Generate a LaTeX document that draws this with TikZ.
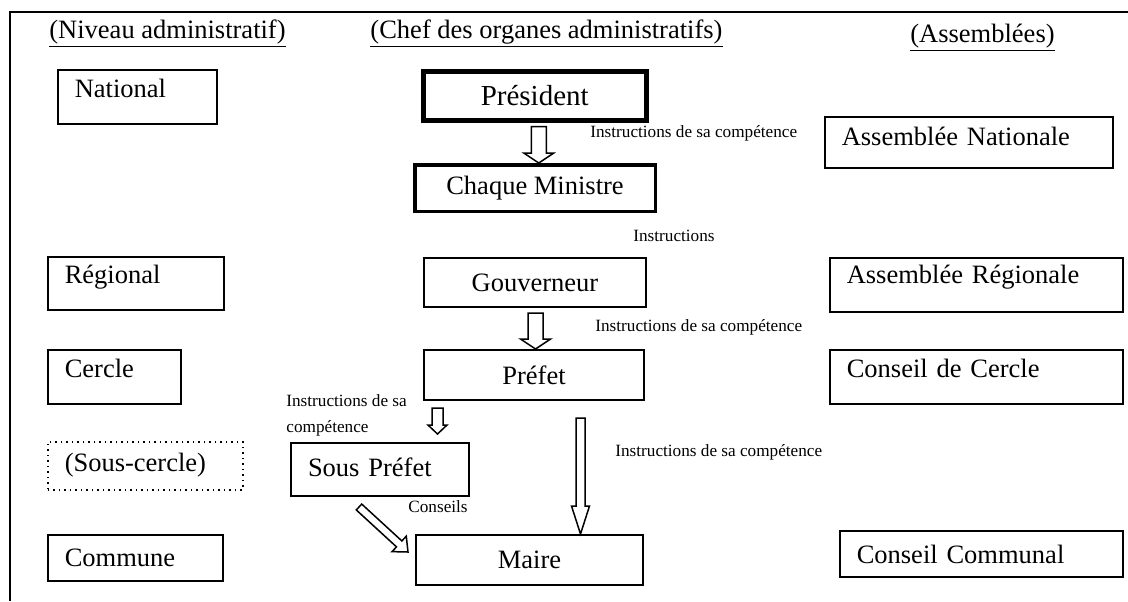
\documentclass[tikz,border=0pt]{standalone}
\usepackage{fontspec}
\setmainfont{Liberation Serif}
\usetikzlibrary{calc}

% hollow block arrow: start, tip, half shaft, half head, head length
\newcommand{\hollowarrow}[5]{%
  \coordinate (hb) at ($(#2)!#5!(#1)$);
  \draw[blockarrow] ($(#1)!#3!90:(#2)$) -- ($(hb)!#3!90:(#2)$)
    -- ($(hb)!#4!90:(#2)$) -- (#2) -- ($(hb)!#4!-90:(#2)$)
    -- ($(hb)!#3!-90:(#2)$) -- ($(#1)!#3!-90:(#2)$) -- cycle;
}

\begin{document}
\begin{tikzpicture}
[x=0.5pt,y=-0.5pt,%
  lvl/.style={draw,line width=0.75pt,anchor=north west,inner xsep=8.5pt,inner ysep=0pt,%
    align=left,font=\fontsize{13.25}{15}\selectfont},%
  chef/.style={draw,line width=1pt,anchor=north west,inner sep=0pt,%
    font=\fontsize{13.25}{15}\selectfont},%
  head/.style={anchor=base,inner sep=0pt,font=\fontsize{13.25}{15}\selectfont},%
  note/.style={anchor=west,inner sep=0pt,font=\fontsize{8.6}{13}\selectfont},%
  blockarrow/.style={draw,line width=0.75pt,fill=white,line join=miter}]
\useasboundingbox (0,0) rectangle (1128,601);
\draw[line width=1pt] (1128,12) -| (10,601);

% column headers
\node[head] (hniv) at (167.5,38) {\underline{(Niveau administratif)}};
\node[head] (hchef) at (546.5,38) {\underline{(Chef des organes administratifs)}};
\node[head] (hass) at (982.5,42) {\underline{(Assemblées)}};

% administrative levels
\node[lvl,text width=62.5pt,text height=14pt,text depth=13pt] (nat) at (57,69) {National};
\node[lvl,text width=71pt,text height=13.5pt,text depth=13pt] (reg) at (47,256) {Régional};
\node[lvl,text width=49.5pt,text height=14pt,text depth=13pt] (cer) at (47,349) {Cercle};
\node[lvl,dotted,text width=80.5pt,text height=15pt,text depth=9pt] (scer) at (47,441) {(Sous-cercle)};
\node[lvl,text width=70.5pt,text height=16pt,text depth=7pt] (com) at (47,534) {Commune};

% heads of the administrative bodies
\node[chef,line width=2.25pt,minimum width=111.5pt,minimum height=24.5pt,%
  font=\fontsize{14.5}{16}\selectfont] (pres) at (421,69) {Président};
\node[chef,line width=1.75pt,minimum width=120.25pt,minimum height=23.25pt] (mini) at (413,163) {Chaque Ministre};
\node[chef,minimum width=111pt,minimum height=24.5pt] (gouv) at (423,257) {Gouverneur};
\node[chef,minimum width=110pt,minimum height=25pt] (pref) at (423,349) {Préfet};
\node[lvl,line width=1pt,text width=72pt,text height=16.5pt,text depth=10pt] (sous) at (290,442) {Sous Préfet};
\node[chef,minimum width=113.5pt,minimum height=25pt] (maire) at (415,534) {Maire};

% assemblies
\node[lvl,text width=127pt,text height=14.5pt,text depth=11pt] (an) at (824,116) {Assemblée Nationale};
\node[lvl,text width=129.5pt,text height=13pt,text depth=14pt] (ar) at (829,257) {Assemblée Régionale};
\node[lvl,text width=129.5pt,text height=14pt,text depth=13pt] (cc) at (829,349) {Conseil de Cercle};
\node[lvl,text width=124.5pt,text height=16.5pt,text depth=6.5pt] (ccom) at (839,530) {Conseil Communal};

% labels
\node[note] (n1) at (590,133) {Instructions de sa compétence};
\node[note] (n2) at (633,236) {Instructions};
\node[note] (n3) at (595,327) {Instructions de sa compétence};
\node[note,anchor=north west,align=left] (n4) at (286,394) {Instructions de sa\\compétence};
\node[note] (n5) at (408,507) {Conseils};
\node[note] (n6) at (615,452) {Instructions de sa compétence};

% arrows
\coordinate (a1s) at ($(pres.south)+(4,4)$);
\coordinate (a1t) at (a1s |- mini.north);
\hollowarrow{a1s}{a1t}{3.75pt}{7.5pt}{5pt}
\coordinate (a2s) at ($(gouv.south)+(0.5,5)$);
\coordinate (a2t) at (a2s |- pref.north);
\hollowarrow{a2s}{a2t}{3.75pt}{7.5pt}{5pt}
\coordinate (a3s) at ($(pref.south)+(-96.5,7)$);
\coordinate (a3t) at ($(a3s |- sous.north)+(0,-8)$);
\hollowarrow{a3s}{a3t}{2.75pt}{4.75pt}{4.5pt}
\coordinate (a4s) at ($(pref.south)+(46.5,17)$);
\coordinate (a4t) at (a4s |- maire.north);
\hollowarrow{a4s}{a4t}{2.25pt}{4.5pt}{14pt}
\coordinate (a5s) at ($(sous.south)+(-21,10)$);
\coordinate (a5t) at ($(maire.north west)+(-7,18)$);
\hollowarrow{a5s}{a5t}{2pt}{5.25pt}{6pt}
\end{tikzpicture}
\end{document}
